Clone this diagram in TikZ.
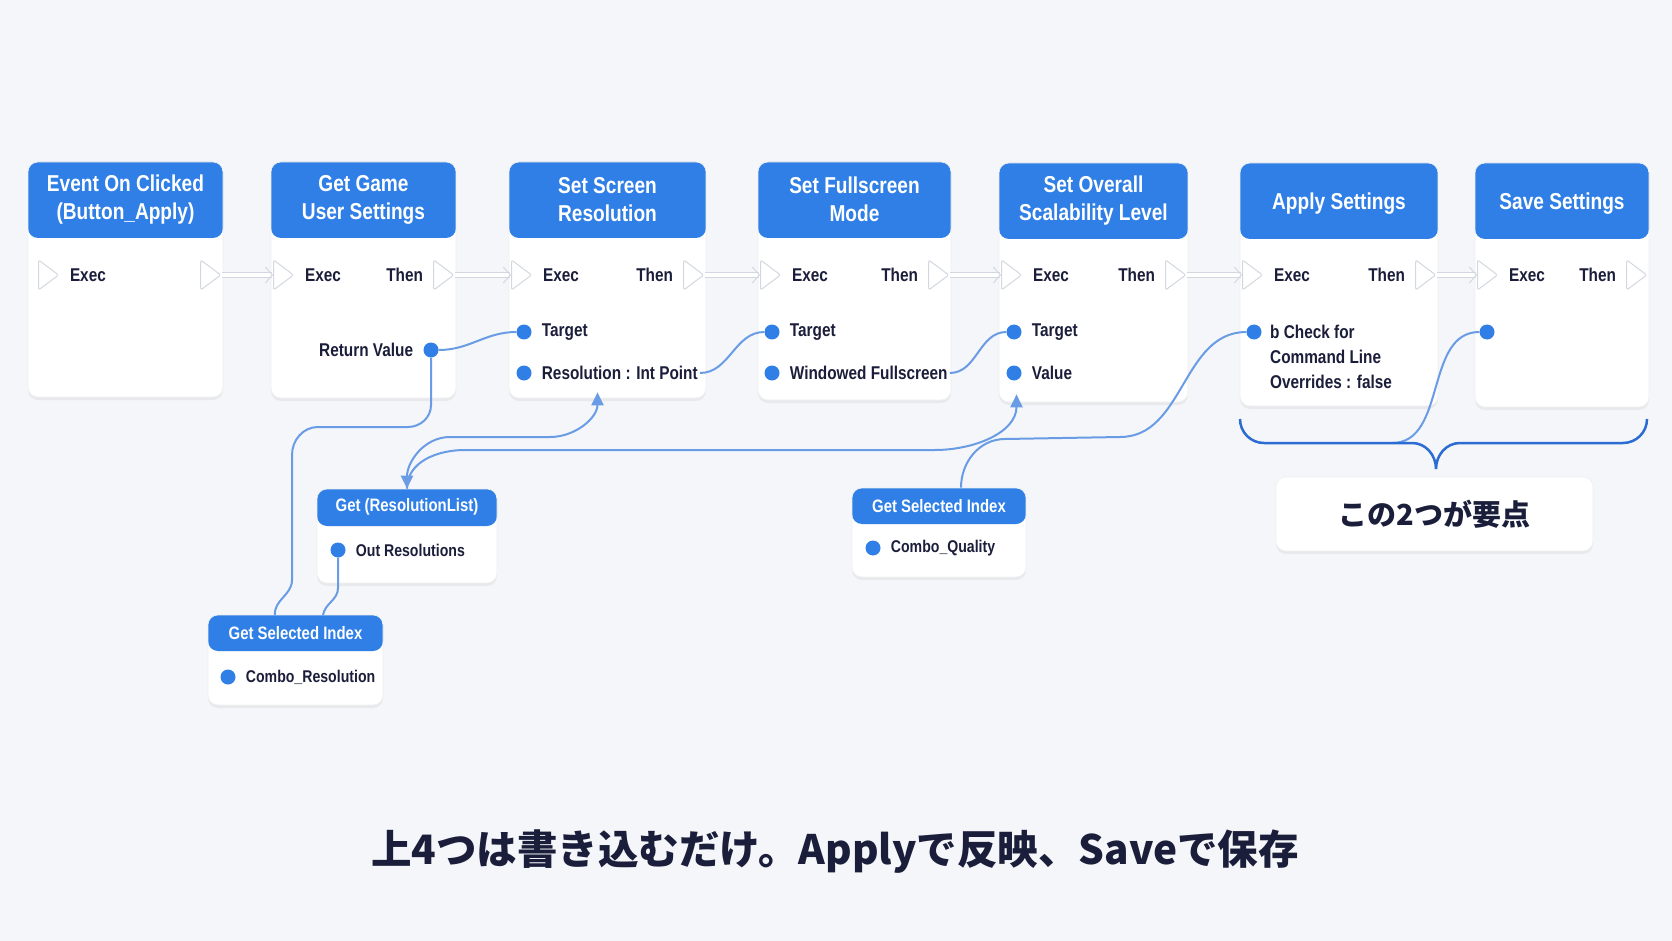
\documentclass[tikz,border=0pt]{standalone}
\usepackage{fontspec}
\usepackage{xcolor}
\usepackage{tikz}
\usetikzlibrary{shapes.geometric, arrows.meta, positioning, shadows}
\setmainfont{Liberation Sans}[FakeStretch=0.83]
\newfontfamily\jpfont{Noto Sans CJK JP}
\definecolor{headBlue}{HTML}{2F7FE6}
\definecolor{pinBlue}{HTML}{2F7FE6}
\definecolor{wireBlue}{HTML}{6A9CE6}
\definecolor{braceBlue}{HTML}{2B6CD3}
\definecolor{inkDark}{HTML}{1B1E3A}
\definecolor{execGray}{HTML}{D3D8E0}
\definecolor{pageBg}{HTML}{F4F6F9}

\begin{document}
\begin{tikzpicture}[x=1pt, y=1pt,
    card/.style={rectangle, rounded corners=10pt, fill=white, draw=black!6, line width=0.6pt,
                 inner sep=0pt, drop shadow={shadow xshift=0pt, shadow yshift=-3pt, opacity=0.10}},
    bpnode/.style={card, path picture={\fill[headBlue] (path picture bounding box.north west)
                   rectangle ([yshift=-#1]path picture bounding box.north east);}},
    headtext/.style={text=white, align=center, font=\bfseries\fontsize{23}{28}\selectfont},
    smallhead/.style={text=white, font=\bfseries\fontsize{18}{22}\selectfont},
    pintext/.style={text=inkDark, font=\bfseries\fontsize{18.5}{25}\selectfont, inner sep=2pt},
    smalltext/.style={text=inkDark, font=\bfseries\fontsize{17}{21}\selectfont, inner sep=2pt},
    execpin/.style={isosceles triangle, isosceles triangle stretches, minimum width=30pt,
                    minimum height=20pt, inner sep=0pt, fill=white, draw=execGray, line width=1pt,
                    rounded corners=2pt},
    datapin/.style={circle, fill=pinBlue, minimum size=15pt, inner sep=0pt},
    execwire/.style={draw=execGray, line width=1pt, double=white, double distance=3.5pt,
                     -{Straight Barb[length=7pt, width=16pt]}},
    datawire/.style={draw=wireBlue, line width=2pt},
    notebox/.style={card, minimum width=317pt, minimum height=74pt,
                    font=\jpfont\bfseries\fontsize{29}{34}\selectfont, text=inkDark},
]
\fill[pageBg] (0,0) rectangle (1672,-941);
\useasboundingbox (0,0) rectangle (1672,-941);

% main chain
\node[bpnode=76pt, minimum width=195pt, minimum height=235pt] (evt) at (125.5,-279.5) {};
\node[bpnode=76pt, minimum width=185pt, minimum height=236pt] (ggus) at (363.5,-280) {};
\node[bpnode=76pt, minimum width=197pt, minimum height=236pt] (ssr) at (607.5,-280) {};
\node[bpnode=76pt, minimum width=193pt, minimum height=238pt] (sfm) at (854.5,-281) {};
\node[bpnode=76pt, minimum width=189pt, minimum height=239pt] (sosl) at (1093.5,-282.5) {};
\node[bpnode=76pt, minimum width=198pt, minimum height=243pt] (apply) at (1339,-284.5) {};
\node[bpnode=76pt, minimum width=174pt, minimum height=244pt] (save) at (1562,-285) {};

\node[headtext] (evthead) at ([yshift=-38pt]evt.north) {Event On Clicked\\(Button\_Apply)};
\node[headtext] (ggushead) at ([yshift=-38pt]ggus.north) {Get Game\\User Settings};
\node[headtext] (ssrhead) at ([yshift=-38pt]ssr.north) {Set Screen\\Resolution};
\node[headtext] (sfmhead) at ([yshift=-38pt]sfm.north) {Set Fullscreen\\Mode};
\node[headtext] (soslhead) at ([yshift=-38pt]sosl.north) {Set Overall\\Scalability Level};
\node[headtext] (applyhead) at ([yshift=-41pt]apply.north) {Apply Settings};
\node[headtext] (savehead) at ([yshift=-41pt]save.north) {Save Settings};

% exec pins
\node[execpin, anchor=west] (evtin) at (38,-275) {};
\node[execpin, anchor=east] (evtout) at (222,-275) {};
\node[execpin, anchor=west] (ggusin) at (273,-275) {};
\node[execpin, anchor=east] (ggusout) at (455,-275) {};
\node[execpin, anchor=west] (ssrin) at (511,-275) {};
\node[execpin, anchor=east] (ssrout) at (705,-275) {};
\node[execpin, anchor=west] (sfmin) at (760,-275) {};
\node[execpin, anchor=east] (sfmout) at (950,-275) {};
\node[execpin, anchor=west] (soslin) at (1001,-275) {};
\node[execpin, anchor=east] (soslout) at (1187,-275) {};
\node[execpin, anchor=west] (applyin) at (1242,-275) {};
\node[execpin, anchor=east] (applyout) at (1437,-275) {};
\node[execpin, anchor=west] (savein) at (1477,-275) {};
\node[execpin, anchor=east] (saveout) at (1648,-275) {};

\node[pintext, right=8pt of evtin] (evtexec) {Exec};
\node[pintext, right=8pt of ggusin] (ggusexec) {Exec};
\node[pintext, left=8pt of ggusout] (ggusthen) {Then};
\node[pintext, right=8pt of ssrin] (ssrexec) {Exec};
\node[pintext, left=8pt of ssrout] (ssrthen) {Then};
\node[pintext, right=8pt of sfmin] (sfmexec) {Exec};
\node[pintext, left=8pt of sfmout] (sfmthen) {Then};
\node[pintext, right=8pt of soslin] (soslexec) {Exec};
\node[pintext, left=8pt of soslout] (soslthen) {Then};
\node[pintext, right=8pt of applyin] (applyexec) {Exec};
\node[pintext, left=8pt of applyout] (applythen) {Then};
\node[pintext, right=8pt of savein] (saveexec) {Exec};
\node[pintext, left=8pt of saveout] (savethen) {Then};

% data pins
\node[datapin] (ggusret) at (431,-350) {};
\node[pintext, left=8pt of ggusret] (ggusrettxt) {Return Value};
\node[datapin] (ssrtgt) at (524,-332) {};
\node[pintext, right=8pt of ssrtgt] (ssrtgttxt) {Target};
\node[datapin] (ssrres) at (524,-373) {};
\node[pintext, right=8pt of ssrres] (ssrrestxt) {Resolution : Int Point};
\node[datapin] (sfmtgt) at (772,-332) {};
\node[pintext, right=8pt of sfmtgt] (sfmtgttxt) {Target};
\node[datapin] (sfmwin) at (772,-373) {};
\node[pintext, right=8pt of sfmwin] (sfmwintxt) {Windowed Fullscreen};
\node[datapin] (sosltgt) at (1014,-332) {};
\node[pintext, right=8pt of sosltgt] (sosltgttxt) {Target};
\node[datapin] (soslval) at (1014,-373) {};
\node[pintext, right=8pt of soslval] (soslvaltxt) {Value};
\node[datapin] (applychk) at (1254,-332) {};
\node[pintext, align=left, anchor=north west] (applychktxt) at (1268,-323) {b Check for\\Command Line\\Overrides : false};
\node[datapin] (savepin) at (1487,-332) {};

% getter nodes
\node[bpnode=37pt, minimum width=180pt, minimum height=94pt] (grl) at (407,-536) {};
\node[smallhead] (grlhead) at ([yshift=-18.5pt]grl.north) {Get (ResolutionList)};
\node[datapin] (grlout) at (338,-550) {};
\node[smalltext, right=8pt of grlout] (grlouttxt) {Out Resolutions};

\node[bpnode=36pt, minimum width=175pt, minimum height=90pt] (gsir) at (295.5,-660) {};
\node[smallhead] (gsirhead) at ([yshift=-18pt]gsir.north) {Get Selected Index};
\node[datapin] (gsirpin) at (228,-677) {};
\node[smalltext, right=8pt of gsirpin] (gsirtxt) {Combo\_Resolution};

\node[bpnode=36pt, minimum width=174pt, minimum height=89pt] (gsiq) at (939,-532.5) {};
\node[smallhead] (gsiqhead) at ([yshift=-18pt]gsiq.north) {Get Selected Index};
\node[datapin] (gsiqpin) at (873,-548) {};
\node[smalltext, right=8pt of gsiqpin] (gsiqtxt) {Combo\_Quality};

\node[notebox] (note) at (1434.5,-514) {この2つが要点};
\node[text=inkDark, font=\jpfont\bfseries\fontsize{40.5}{48}\selectfont] (caption) at (835,-852)
    {上4つは書き込むだけ。Applyで反映、Saveで保存};

% exec wires
\draw[execwire] (evtout) -- (ggusin);
\draw[execwire] (ggusout) -- (ssrin);
\draw[execwire] (ssrout) -- (sfmin);
\draw[execwire] (sfmout) -- (soslin);
\draw[execwire] (soslout) -- (applyin);
\draw[execwire] (applyout) -- (savein);

% data wires
\coordinate (gsirtopa) at (275,-615);
\coordinate (gsirtopb) at (323,-615);
\coordinate (bracejoin) at (1392,-443);
\draw[datawire] (ggusret) to[out=0, in=180] (ssrtgt);
\draw[datawire] (ssrrestxt.east) to[out=0, in=180] (sfmtgt);
\draw[datawire] (sfmwintxt.east) to[out=0, in=180] (sosltgt);
\draw[datawire] (ggusret) -- (431,-405) to[out=-90, in=0] (408,-427) -- (318,-427)
    to[out=180, in=90] (292,-455) -- (292,-580) to[out=-90, in=95] (gsirtopa);
\draw[datawire] (grlout) -- (338,-588) to[out=-90, in=80] (gsirtopb);
\draw[datawire, {Triangle[length=13pt, width=12pt]}-{Triangle[length=13pt, width=12pt]}]
    (grl.north) to[out=90, in=180] (450,-437) -- (550,-437) to[out=0, in=-90] ([shift={(-10pt,6pt)}]ssr.south);
\draw[datawire, -{Triangle[length=13pt, width=12pt]}]
    (grl.north) to[out=90, in=180] (465,-450) -- (935,-450) to[out=0, in=-90] ([shift={(-77pt,8pt)}]sosl.south);
\draw[datawire] ([xshift=22pt]gsiq.north) to[out=90, in=180] (1005,-439) -- (1120,-437) to[out=0, in=180] (applychk);
\draw[datawire] (savepin) to[out=180, in=0] (bracejoin);

% brace
\draw[braceBlue, line width=2.5pt] (1240,-419) to[out=-90, in=180] (1264,-443) -- (1412,-443)
    to[out=0, in=90] (1436,-469) to[out=90, in=180] (1460,-443) -- (1623,-443) to[out=0, in=-90] (1647,-419);
\end{tikzpicture}
\end{document}
